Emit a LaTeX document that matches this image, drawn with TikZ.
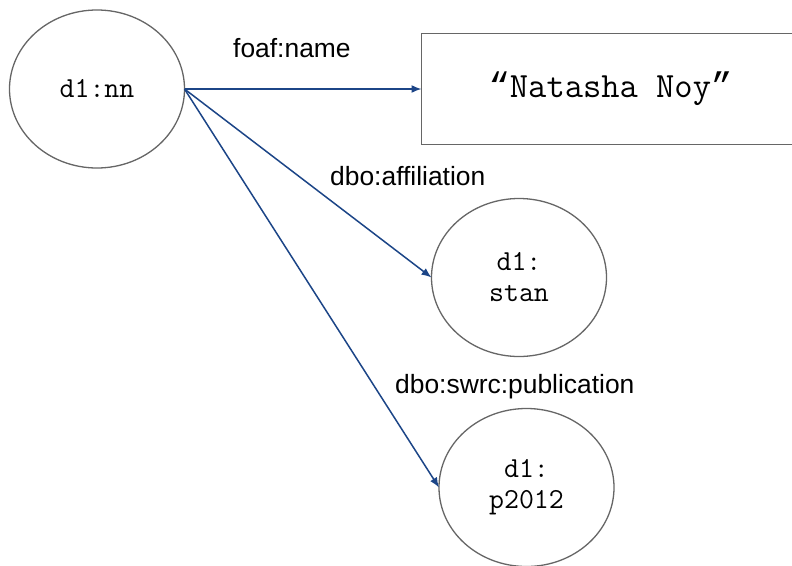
\documentclass[tikz,border=0pt]{standalone}
\usepackage{fontspec}
\setmainfont{Liberation Sans}
\newfontfamily\quotefont{Liberation Mono}
\usepackage{tikz}
\usetikzlibrary{positioning,arrows.meta,shapes.geometric}
\definecolor{rLine}{RGB}{102,102,102}
\definecolor{rArrow}{RGB}{28,69,135}
\tikzset{
  res/.style={ellipse, draw=rLine, line width=1.3pt, fill=white,
              minimum width=175pt, minimum height=158pt, inner sep=0pt,
              outer sep=0pt, align=center,
              font=\ttfamily\fontsize{29}{31}\selectfont},
  lit/.style={rectangle, draw=rLine, line width=1.8pt, fill=white,
              minimum width=378pt, minimum height=111pt, outer sep=0pt,
              font=\ttfamily\fontsize{35.5}{38}\selectfont},
  prop/.style={-{Latex[length=10pt,width=8pt]}, draw=rArrow, line width=1.5pt},
  lbl/.style={font=\fontsize{26.4}{31}\selectfont, inner sep=0pt, anchor=base west},
}
\begin{document}
\begin{tikzpicture}[x=1pt,y=1pt]
  \useasboundingbox (0,0) rectangle (792,-565);
  \node[res] (nn) at (97,-89) {d1:nn};
  \node[lit, right=237pt of nn] (name) {{\quotefont“}Natasha Noy{\quotefont”}};
  \node[res, below=54pt of name, xshift=-91.5pt] (stan) {d1:\\stan};
  \node[res, below=52pt of stan, xshift=7.5pt] (pub) {d1:\\p2012};

  % property labels
  \node[lbl] (lname) at (233,-57) {foaf:name};
  \node[lbl] (laff) at (330,-185) {dbo:affiliation};
  \node[lbl] (lpub) at (395,-393) {dbo:swrc:publication};

  \draw[prop] (nn.east) -- (name.west);
  \draw[prop] (nn.east) -- (stan.west);
  \draw[prop] (nn.east) -- (pub.west);
\end{tikzpicture}
\end{document}
